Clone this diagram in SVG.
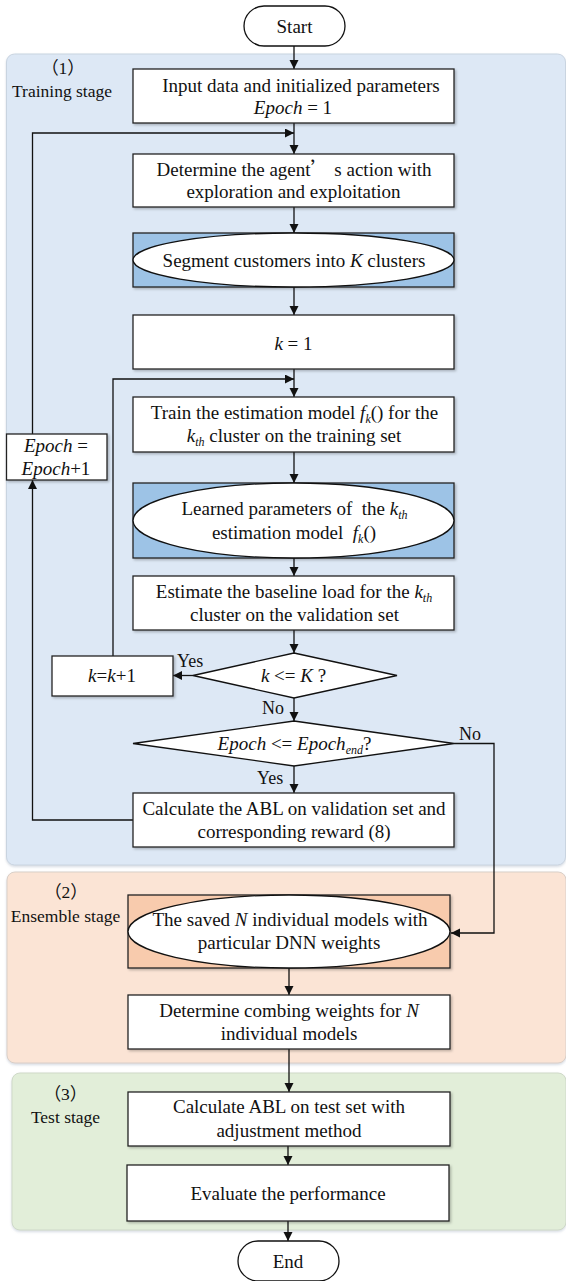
<svg xmlns="http://www.w3.org/2000/svg" width="566" height="1281" viewBox="0 0 566 1281">
<style>
  text { font-family: "Liberation Serif", "Times New Roman", "Noto Sans CJK SC", serif; fill: #111; }
  .t { font-size: 19px; text-anchor: middle; }
  .lab { font-size: 17.5px; text-anchor: middle; }
  .yn { font-size: 18px; }
  .i { font-style: italic; }
  .box { fill: #ffffff; stroke: #222; stroke-width: 1.3; filter: url(#sh); }
  .bluebox { fill: #9dc3e6; stroke: #222; stroke-width: 1.3; filter: url(#sh); }
  .orgbox { fill: #f8cbad; stroke: #222; stroke-width: 1.3; filter: url(#sh); }
  .ell { fill: #ffffff; stroke: #111; stroke-width: 1.3; }
  .term { fill: #ffffff; stroke: #111; stroke-width: 1.3; }
  .dia { fill: #ffffff; stroke: #111; stroke-width: 1.3; }
  .c { fill: none; stroke: #111; stroke-width: 1.3; }
  .ca { fill: none; stroke: #111; stroke-width: 1.3; marker-end: url(#ah); }
</style>
<defs>
  <marker id="ah" markerUnits="userSpaceOnUse" markerWidth="10" markerHeight="10" refX="9" refY="4.5" orient="auto">
    <path d="M0,0 L9,4.5 L0,9 z" fill="#111"/>
  </marker>
  <filter id="sh" x="-5%" y="-5%" width="115%" height="125%">
    <feDropShadow dx="1.5" dy="1.5" stdDeviation="1" flood-color="#000" flood-opacity="0.25"/>
  </filter>
  <filter id="psh" x="-5%" y="-5%" width="115%" height="115%">
    <feDropShadow dx="0" dy="1.5" stdDeviation="1.2" flood-color="#8a9ab0" flood-opacity="0.35"/>
  </filter>
</defs>

<g id="panels">
  <rect id="panel-training" x="6.5" y="54" width="559" height="811" rx="8" fill="#dde8f5" stroke="#c9d4e0" stroke-width="1" filter="url(#psh)"/>
  <rect id="panel-ensemble" x="7" y="872" width="559" height="191" rx="8" fill="#fbe4d5" stroke="#d9cfc8" stroke-width="1" filter="url(#psh)"/>
  <rect id="panel-test" x="12" y="1073" width="554" height="157" rx="8" fill="#e2eed9" stroke="#cfd9c8" stroke-width="1" filter="url(#psh)"/>
  <text class="lab" x="63" y="74">（1）</text>
  <text class="lab" x="62" y="97">Training stage</text>
  <text class="lab" x="66" y="898">（2）</text>
  <text class="lab" x="65.5" y="921.5">Ensemble stage</text>
  <text class="lab" x="65.5" y="1100">（3）</text>
  <text class="lab" x="65.5" y="1123">Test stage</text>
</g>

<g id="connectors">
  <line class="ca" x1="294" y1="46" x2="294" y2="69"/>
  <line class="ca" x1="294" y1="123" x2="294" y2="154"/>
  <line class="ca" x1="294" y1="207" x2="294" y2="233"/>
  <line class="ca" x1="294" y1="287" x2="294" y2="315"/>
  <line class="ca" x1="294" y1="369" x2="294" y2="397"/>
  <line class="ca" x1="294" y1="452" x2="294" y2="483"/>
  <line class="ca" x1="294" y1="558" x2="294" y2="576"/>
  <line class="ca" x1="294" y1="630" x2="294" y2="653"/>
  <line class="ca" x1="294" y1="698" x2="294" y2="721"/>
  <line class="ca" x1="294" y1="766" x2="294" y2="793"/>
  <line class="ca" x1="193" y1="675.5" x2="173" y2="675.5"/>
  <polyline class="ca" points="113,656 113,379 294,379"/>
  <polyline class="ca" points="133,820 32.5,820 32.5,480"/>
  <polyline class="ca" points="32.5,434 32.5,133 294,133"/>
  <polyline class="ca" points="454,743.5 494,743.5 494,933 451,933"/>
  <line class="ca" x1="289" y1="968" x2="289" y2="995"/>
  <line class="ca" x1="289" y1="1049" x2="289" y2="1092"/>
  <line class="ca" x1="288" y1="1146" x2="288" y2="1165"/>
  <line class="ca" x1="288" y1="1221" x2="288" y2="1241"/>
  <text class="yn" x="177" y="667">Yes</text>
  <text class="yn" x="262" y="713.5">No</text>
  <text class="yn" x="459" y="740">No</text>
  <text class="yn" x="257" y="783.5">Yes</text>
</g>

<g id="start">
  <rect class="term" x="244" y="6" width="101" height="40" rx="20"/>
  <text class="t" x="294.5" y="33">Start</text>
</g>

<g id="input">
  <rect class="box" x="133" y="69" width="321" height="54"/>
  <text class="t" x="301" y="92">Input data and initialized parameters</text>
  <text class="t" x="293" y="113.5"><tspan class="i">Epoch</tspan> = 1</text>
</g>

<g id="determine-action">
  <rect class="box" x="133" y="154" width="321" height="53"/>
  <text class="t" x="294" y="176">Determine the agent<tspan font-family="Noto Sans CJK SC, sans-serif">’</tspan> s action with</text>
  <text class="t" x="293.5" y="197.5">exploration and exploitation</text>
</g>

<g id="segment">
  <rect class="bluebox" x="133" y="233" width="321" height="54"/>
  <ellipse class="ell" cx="293.5" cy="260" rx="160.5" ry="27"/>
  <text class="t" x="294" y="266.5">Segment customers into <tspan class="i">K</tspan> clusters</text>
</g>

<g id="k-init">
  <rect class="box" x="133" y="315" width="321" height="54"/>
  <text class="t" x="293.5" y="349.5"><tspan class="i">k</tspan> = 1</text>
</g>

<g id="train">
  <rect class="box" x="133" y="397" width="321" height="55"/>
  <text class="t" x="294.5" y="419">Train the estimation model <tspan class="i">f</tspan><tspan class="i" font-size="12" dy="4">k</tspan><tspan dy="-4">() for the</tspan></text>
  <text class="t" x="294" y="442"><tspan class="i">k</tspan><tspan class="i" font-size="12" dy="4">th</tspan><tspan dy="-4"> cluster on the training set</tspan></text>
</g>

<g id="epoch-inc">
  <rect class="box" x="6.5" y="434" width="100.5" height="46"/>
  <text class="t" x="56" y="452"><tspan class="i">Epoch</tspan> =</text>
  <text class="t" x="56" y="474.5"><tspan class="i">Epoch</tspan>+1</text>
</g>

<g id="learned">
  <rect class="bluebox" x="133" y="483" width="321" height="75"/>
  <ellipse class="ell" cx="293.5" cy="520.5" rx="160.5" ry="37.5"/>
  <text class="t" x="294.5" y="515" xml:space="preserve">Learned parameters of  the <tspan class="i">k</tspan><tspan class="i" font-size="12" dy="4">th</tspan></text>
  <text class="t" x="294" y="539" xml:space="preserve">estimation model  <tspan class="i">f</tspan><tspan class="i" font-size="12" dy="4">k</tspan><tspan dy="-4">()</tspan></text>
</g>

<g id="estimate">
  <rect class="box" x="133" y="576" width="321" height="54"/>
  <text class="t" x="294" y="598">Estimate the baseline load for the <tspan class="i">k</tspan><tspan class="i" font-size="12" dy="4">th</tspan></text>
  <text class="t" x="294.5" y="621">cluster on the validation set</text>
</g>

<g id="k-decision">
  <polygon class="dia" points="294,653 397,675.5 294,698 193,675.5"/>
  <text class="t" x="293.5" y="682"><tspan class="i">k</tspan> &lt;= <tspan class="i">K</tspan> ?</text>
</g>

<g id="k-inc">
  <rect class="box" x="52" y="656" width="121" height="40"/>
  <text class="t" x="112" y="682"><tspan class="i">k</tspan>=<tspan class="i">k</tspan>+1</text>
</g>

<g id="epoch-decision">
  <polygon class="dia" points="294,721 454,743.5 294,766 133,743.5"/>
  <text class="t" x="294.5" y="750"><tspan class="i">Epoch</tspan> &lt;= <tspan class="i">Epoch</tspan><tspan class="i" font-size="12" dy="4">end</tspan><tspan dy="-4">?</tspan></text>
</g>

<g id="calc-reward">
  <rect class="box" x="133" y="793" width="321" height="54"/>
  <text class="t" x="294" y="814.5">Calculate the ABL on validation set and</text>
  <text class="t" x="294" y="838">corresponding reward (8)</text>
</g>

<g id="saved-models">
  <rect class="orgbox" x="128" y="895" width="322" height="73"/>
  <ellipse class="ell" cx="289" cy="931.5" rx="161" ry="36.5"/>
  <text class="t" x="290" y="926">The saved <tspan class="i">N</tspan> individual models with</text>
  <text class="t" x="289" y="949">particular DNN weights</text>
</g>

<g id="combine-weights">
  <rect class="box" x="128" y="995" width="322" height="54"/>
  <text class="t" x="289" y="1017">Determine combing weights for <tspan class="i">N</tspan></text>
  <text class="t" x="289" y="1039.5">individual models</text>
</g>

<g id="calc-test">
  <rect class="box" x="128" y="1092" width="322" height="54"/>
  <text class="t" x="289" y="1113">Calculate ABL on test set with</text>
  <text class="t" x="289" y="1136.5">adjustment method</text>
</g>

<g id="evaluate">
  <rect class="box" x="127" y="1165" width="322" height="56"/>
  <text class="t" x="288" y="1200">Evaluate the performance</text>
</g>

<g id="end">
  <rect class="term" x="238" y="1241" width="101" height="40" rx="20"/>
  <text class="t" x="288" y="1267.5">End</text>
</g>
</svg>
